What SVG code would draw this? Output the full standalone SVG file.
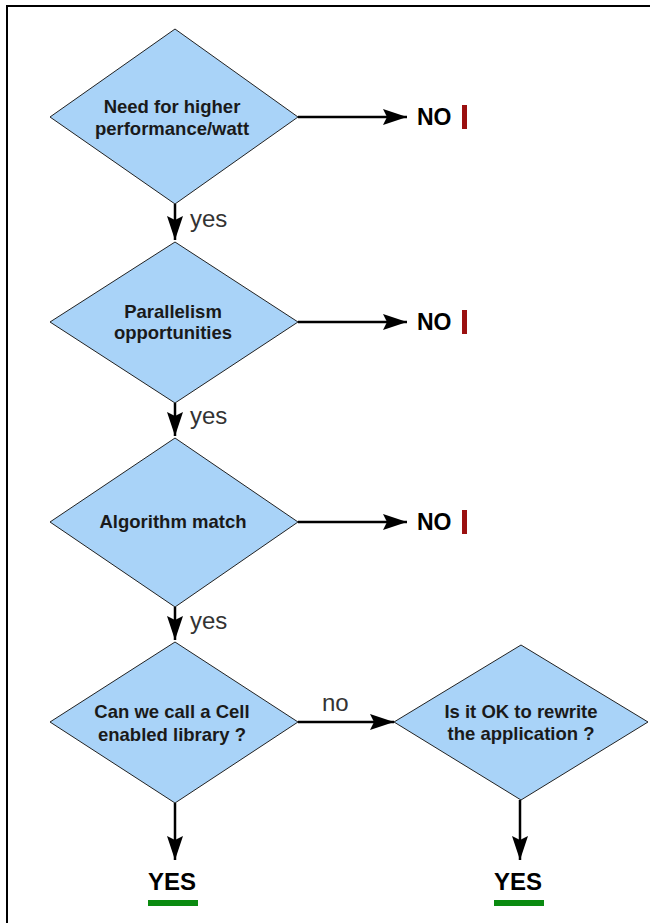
<svg xmlns="http://www.w3.org/2000/svg" width="650" height="923" viewBox="0 0 650 923">
  <defs>
    <marker id="arrow" viewBox="0 0 24 16" refX="24" refY="8" markerWidth="24" markerHeight="16" markerUnits="userSpaceOnUse" orient="auto">
      <path d="M0,0 L24,8 L0,16 L4,8 Z" fill="#000"/>
    </marker>
    <style>
      .frame { fill: #fff; stroke: #000; stroke-width: 2; }
      .decision { fill: #a9d3f8; stroke: #222; stroke-width: 1; }
      .node-text { font-family: "Liberation Sans", Arial, sans-serif; font-size: 18.5px; font-weight: bold; fill: #1a1a1a; text-anchor: middle; }
      .edge { stroke: #000; stroke-width: 2.5; fill: none; marker-end: url(#arrow); }
      .edge-label { font-family: "Liberation Sans", Arial, sans-serif; font-size: 24px; fill: #333; }
      .result { font-family: "Liberation Sans", Arial, sans-serif; font-weight: bold; fill: #000; }
      .no { font-size: 23px; }
      .yes { font-size: 24px; }
      .stop-bar { fill: #9b1010; }
      .go-bar { fill: #0a8a10; }
    </style>
  </defs>

  <!-- page frame -->
  <rect class="frame" x="7" y="6" width="660" height="940"/>

  <!-- connectors -->
  <g id="connectors">
    <line class="edge" x1="175" y1="204" x2="175" y2="240"/>
    <line class="edge" x1="175" y1="403" x2="175" y2="436"/>
    <line class="edge" x1="175" y1="607" x2="175" y2="640"/>
    <line class="edge" x1="298" y1="117" x2="407" y2="117"/>
    <line class="edge" x1="298" y1="322" x2="407" y2="322"/>
    <line class="edge" x1="298" y1="522" x2="407" y2="522"/>
    <line class="edge" x1="298" y1="722" x2="394" y2="722"/>
    <line class="edge" x1="175" y1="803" x2="175" y2="860"/>
    <line class="edge" x1="520" y1="800" x2="520" y2="860"/>
    <text class="edge-label" x="190" y="227">yes</text>
    <text class="edge-label" x="190" y="424">yes</text>
    <text class="edge-label" x="190" y="629">yes</text>
    <text class="edge-label" x="322" y="711">no</text>
  </g>

  <!-- decisions -->
  <g id="need-performance">
    <polygon class="decision" points="175,29 298,117 175,204 50,117"/>
    <text class="node-text" x="172" y="113">Need for higher</text>
    <text class="node-text" x="172" y="135">performance/watt</text>
  </g>
  <g id="parallelism">
    <polygon class="decision" points="175,242 298,322 175,403 50,322"/>
    <text class="node-text" x="173" y="318">Parallelism</text>
    <text class="node-text" x="173" y="339">opportunities</text>
  </g>
  <g id="algorithm-match">
    <polygon class="decision" points="175,438 298,522 175,607 50,522"/>
    <text class="node-text" x="173" y="528">Algorithm match</text>
  </g>
  <g id="cell-library">
    <polygon class="decision" points="175,642 298,722 175,803 50,722"/>
    <text class="node-text" x="172" y="718">Can we call a Cell</text>
    <text class="node-text" x="172" y="741">enabled library ?</text>
  </g>
  <g id="rewrite-app">
    <polygon class="decision" points="521,645 648,722 521,800 394,722"/>
    <text class="node-text" x="521" y="718">Is it OK to rewrite</text>
    <text class="node-text" x="521" y="740">the application ?</text>
  </g>

  <!-- outcomes -->
  <g id="no-1">
    <text class="result no" x="417" y="125">NO</text>
    <rect class="stop-bar" x="462" y="105" width="5" height="24"/>
  </g>
  <g id="no-2">
    <text class="result no" x="417" y="330">NO</text>
    <rect class="stop-bar" x="462" y="310" width="5" height="24"/>
  </g>
  <g id="no-3">
    <text class="result no" x="417" y="530">NO</text>
    <rect class="stop-bar" x="462" y="510" width="5" height="24"/>
  </g>
  <g id="yes-library">
    <text class="result yes" x="148" y="890">YES</text>
    <rect class="go-bar" x="148" y="900" width="50" height="6"/>
  </g>
  <g id="yes-rewrite">
    <text class="result yes" x="494" y="890">YES</text>
    <rect class="go-bar" x="494" y="900" width="50" height="6"/>
  </g>
</svg>
